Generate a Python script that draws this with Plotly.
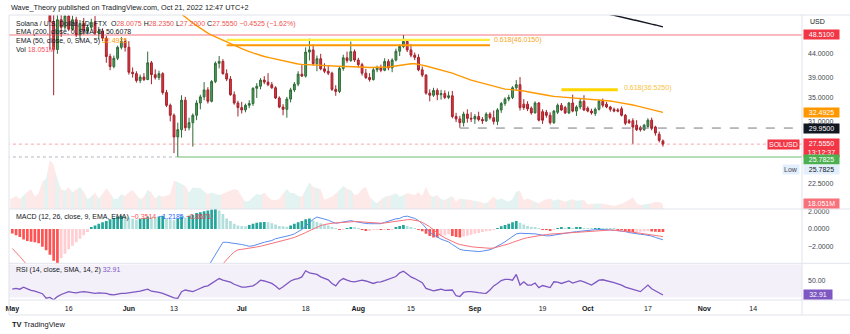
import numpy as np
import pandas as pd
import plotly.graph_objects as go

# ---------------- data ----------------
dates = pd.date_range("2022-05-01", "2022-10-21", freq="D")

opens = [
    99.0, 98.6, 96.0, 91.0, 95.8, 87.0, 84.2, 80.6, 76.1, 62.4, 64.0, 52.0, 45.0, 52.5, 50.5, 53.5,
    50.0, 52.5, 48.5, 51.5, 49.5, 50.5, 51.8, 49.0, 49.5, 47.7, 43.4, 41.2, 43.0, 45.5, 46.9,
    45.5, 40.0, 39.7, 38.3, 39.0, 38.5, 42.0, 39.5, 38.9, 39.7, 36.0, 33.7, 32.0, 28.6, 29.7, 34.6,
    30.0, 30.8, 32.0, 34.1, 35.2, 36.5, 34.4, 38.1, 41.9, 42.3, 39.7, 38.6, 35.6, 34.1,
    33.3, 32.9, 33.7, 34.0, 36.8, 37.2, 38.4, 38.0, 37.5, 36.9, 35.0, 33.4, 33.0, 34.8, 36.5, 37.6,
    39.6, 39.2, 44.4, 44.9, 41.8, 42.9, 40.7, 40.2, 39.8, 36.6, 36.2, 40.8, 43.1, 42.5, 44.5,
    42.6, 41.6, 39.8, 38.9, 38.5, 40.5, 40.9, 40.4, 42.3, 40.9, 42.6, 44.6, 45.7, 46.9, 44.9, 43.7,
    43.2, 40.5, 39.4, 35.9, 35.5, 36.4, 35.6, 35.8, 35.1, 35.4, 31.8, 31.4, 30.8, 32.2, 31.5,
    31.4, 31.8, 31.3, 31.1, 32.2, 31.6, 31.0, 32.9, 34.0, 34.8, 35.1, 36.9, 37.5, 33.9, 33.9, 33.2,
    32.4, 34.1, 32.6, 32.5, 32.0, 30.8, 32.5, 33.7, 33.3, 32.4, 34.1, 32.7, 33.4, 34.4,
    33.2, 32.7, 32.3, 33.0, 34.4, 33.9, 33.4, 33.0, 32.9, 33.1, 32.0, 31.1, 31.1, 30.4, 30.0, 29.7,
    30.2, 31.2, 30.1, 29.0, 28.0075,
]
highs = [
    101.0, 99.8, 96.8, 96.5, 96.4, 88.0, 84.9, 81.4, 76.8, 70.0, 68.2, 56.0, 57.0, 54.0, 55.0, 54.2,
    53.6, 53.3, 52.4, 53.0, 51.2, 52.8, 53.5, 50.6, 50.2, 48.3, 44.0, 43.6, 45.9, 48.0, 47.6,
    47.0, 41.0, 40.2, 39.5, 39.8, 44.5, 42.4, 40.6, 40.3, 40.0, 36.5, 34.0, 32.3, 30.8, 35.5, 35.2,
    31.6, 32.3, 34.6, 35.6, 38.0, 37.0, 38.4, 42.3, 43.5, 42.8, 40.6, 39.2, 36.2, 34.5,
    34.3, 34.0, 34.6, 37.0, 37.8, 38.8, 39.2, 39.8, 38.0, 37.2, 35.3, 33.9, 35.2, 36.9, 38.0, 40.2,
    41.5, 45.5, 47.6, 46.2, 43.6, 44.0, 41.9, 41.5, 40.1, 37.4, 41.2, 43.8, 44.5, 46.9, 45.0,
    43.1, 42.0, 40.7, 39.8, 41.0, 41.4, 41.6, 43.0, 42.8, 43.0, 45.2, 46.2, 48.51, 47.5, 46.3, 44.3,
    43.9, 41.2, 39.6, 36.6, 36.9, 36.8, 36.5, 36.4, 36.2, 36.3, 32.4, 31.9, 32.6, 33.0, 32.5,
    32.2, 32.6, 31.7, 32.5, 32.5, 32.8, 33.2, 34.3, 35.1, 35.6, 37.2, 38.4, 39.0, 34.8, 34.4, 33.5,
    34.4, 34.3, 33.0, 32.9, 32.5, 32.9, 34.0, 34.1, 33.6, 34.3, 35.6, 33.7, 34.9, 35.5,
    33.5, 33.1, 33.3, 34.7, 34.9, 34.3, 33.6, 33.3, 33.2, 33.5, 32.2, 31.4, 31.5, 31.2, 30.3, 30.6,
    31.5, 31.6, 30.3, 29.4, 28.235,
]
lows = [
    94.5, 93.2, 90.3, 89.8, 84.9, 81.0, 79.2, 73.8, 61.2, 59.2, 45.0, 35.5, 44.0, 48.0, 49.8, 49.5,
    49.6, 48.0, 47.2, 48.6, 48.7, 49.9, 48.6, 47.4, 47.0, 42.0, 40.4, 40.8, 42.6, 45.0, 44.5,
    39.5, 38.9, 37.9, 37.8, 38.2, 38.4, 37.6, 38.5, 38.4, 35.6, 33.4, 31.0, 26.3, 25.7825, 28.5, 29.5,
    29.6, 27.2, 31.2, 33.0, 34.6, 34.0, 34.2, 37.8, 40.8, 39.5, 38.2, 35.4, 33.8, 31.8,
    32.3, 32.5, 33.2, 33.6, 35.0, 36.6, 37.6, 37.2, 36.7, 34.8, 33.2, 32.0, 31.6, 34.2, 36.1, 37.2,
    39.0, 38.9, 42.5, 41.4, 40.2, 40.4, 39.8, 39.4, 36.3, 35.4, 35.9, 40.3, 42.0, 42.2, 42.2,
    41.0, 39.3, 38.6, 38.1, 38.3, 40.0, 40.0, 40.2, 40.4, 40.0, 42.3, 43.5, 45.3, 44.4, 43.2, 42.6,
    40.2, 39.0, 35.6, 34.4, 35.2, 34.6, 34.7, 34.8, 34.8, 31.5, 30.9, 30.0, 30.2, 30.8, 30.9,
    30.6, 31.0, 30.6, 30.9, 31.3, 30.5, 30.4, 32.4, 33.6, 34.4, 34.8, 36.5, 32.8, 32.9, 32.7, 32.1,
    32.3, 31.0, 30.6, 31.6, 30.5, 30.6, 32.2, 32.7, 32.2, 32.2, 32.5, 31.9, 33.0, 32.7,
    32.5, 32.1, 31.9, 32.8, 33.3, 33.2, 32.6, 32.5, 32.5, 31.8, 30.4, 30.6, 27.6, 29.5, 29.4, 29.5,
    30.0, 29.6, 28.8, 27.8, 27.2,
]
closes = [
    98.6, 96.0, 91.0, 95.8, 87.0, 84.2, 80.6, 76.1, 62.4, 64.0, 52.0, 45.0, 52.5, 50.5, 53.5, 50.0,
    52.5, 48.5, 51.5, 49.5, 50.5, 51.8, 49.0, 49.5, 47.7, 43.4, 41.2, 43.0, 45.5, 46.9, 45.5,
    40.0, 39.7, 38.3, 39.0, 38.5, 42.0, 39.5, 38.9, 39.7, 36.0, 33.7, 32.0, 28.6, 29.7, 34.6, 30.0,
    30.8, 32.0, 34.1, 35.2, 36.5, 34.4, 38.1, 41.9, 42.3, 39.7, 38.6, 35.6, 34.1, 33.3,
    32.9, 33.7, 34.0, 36.8, 37.2, 38.4, 38.0, 37.5, 36.9, 35.0, 33.4, 33.0, 34.8, 36.5, 37.6, 39.6,
    39.2, 44.4, 44.9, 41.8, 42.9, 40.7, 40.2, 39.8, 36.6, 36.2, 40.8, 43.1, 42.5, 44.5, 42.6,
    41.6, 39.8, 38.9, 38.5, 40.5, 40.9, 40.4, 42.3, 40.9, 42.6, 44.6, 45.7, 46.9, 44.9, 43.7, 43.2,
    40.5, 39.4, 35.9, 35.5, 36.4, 35.6, 35.8, 35.1, 35.4, 31.8, 31.4, 30.8, 32.2, 31.5, 31.4,
    31.8, 31.3, 31.1, 32.2, 31.6, 31.0, 32.9, 34.0, 34.8, 35.1, 36.9, 37.5, 33.3, 33.3, 33.1, 32.4,
    34.1, 31.2, 31.2, 32.0, 30.8, 32.7, 33.7, 32.9, 32.4, 34.1, 32.7, 33.4, 34.4, 32.9,
    32.7, 32.4, 33.0, 34.4, 33.7, 33.4, 33.0, 32.7, 32.7, 32.0, 30.7, 30.8, 30.1, 29.7, 29.7, 30.4,
    31.2, 29.9, 29.2, 28.1, 27.555,
]
volumes_m = [
    38, 47, 35, 50, 62, 71, 44, 57, 98, 110, 176, 158, 104, 71, 66, 78, 59, 68, 80, 62, 35, 44,
    59, 38, 54, 75, 59, 35, 38, 53, 47,
    61, 68, 50, 35, 43, 68, 59, 38, 50, 44, 47, 54, 102, 97, 90, 83, 59, 78, 75, 76, 62, 54,
    59, 54, 50, 54, 62, 65, 71, 68,
    43, 26, 30, 43, 54, 50, 59, 43, 32, 32, 35, 58, 71, 58, 57, 47, 44, 72, 95, 79, 75, 71,
    32, 40, 44, 57, 68, 83, 72, 68, 50,
    54, 72, 80, 44, 29, 21, 35, 44, 47, 50, 57, 44, 50, 57, 54, 50, 60, 47, 80, 50, 43, 50,
    35, 32, 40, 47, 26, 38, 35, 34, 32,
    29, 26, 23, 21, 32, 44, 32, 38, 32, 26, 36, 62, 66, 32, 38, 32, 26, 21, 30, 34, 38, 30,
    35, 31, 26, 32, 35, 30, 31, 32,
    17, 18, 19, 21, 18, 17, 14, 11, 14, 18, 25, 32, 42, 21, 14, 16, 18, 21, 26, 25, 18.051,
]

ema50_dates = pd.date_range("2022-06-12", "2022-10-21", freq="D")
ema50 = [
    56.6, 55.7, 54.8, 54.0, 53.2, 52.4, 51.6, 50.9, 50.2, 49.6, 49.0, 48.5, 48.1, 47.7, 47.3,
    46.9, 46.5, 46.0, 45.6,
    45.2, 44.8, 44.5, 44.2, 43.9, 43.6, 43.4, 43.2, 43.0, 42.8, 42.6, 42.4, 42.2, 42.0, 41.85,
    41.75, 41.65, 41.6, 41.55, 41.5, 41.45, 41.4, 41.35, 41.3, 41.3, 41.25, 41.2, 41.2, 41.2,
    41.2, 41.15,
    41.1, 41.1, 41.05, 41.0, 41.0, 41.0, 41.0, 41.05, 41.1, 41.2, 41.35, 41.5, 41.65, 41.75,
    41.8, 41.8, 41.7, 41.5, 41.3, 41.1, 40.9, 40.7, 40.5, 40.3, 40.1, 39.8, 39.5, 39.2, 38.9,
    38.7, 38.4,
    38.2, 38.0, 37.8, 37.55, 37.3, 37.1, 36.9, 36.75, 36.65, 36.6, 36.55, 36.5, 36.4, 36.3,
    36.15, 36.0, 35.9, 35.75, 35.6, 35.5, 35.4, 35.3, 35.25, 35.2, 35.15, 35.1, 35.05, 35.0,
    34.95, 34.9,
    34.85, 34.8, 34.7, 34.65, 34.6, 34.5, 34.45, 34.35, 34.25, 34.15, 34.0, 33.9, 33.75, 33.6,
    33.45, 33.3, 33.15, 33.0, 32.85, 32.68, 32.4925,
]
ema200_dates = pd.date_range("2022-10-05", "2022-10-21", freq="D")
ema200 = [54.6, 54.2, 53.9, 53.7, 53.5, 53.2, 53.0, 52.8, 52.5, 52.3, 52.1, 51.8, 51.6, 51.3,
          51.1, 50.85, 50.6078]

macd_hist = [
    -0.5, -0.7, -0.9, -1.2, -1.35, -1.45, -1.5, -1.6, -2.0, -2.4, -2.9, -3.6, -3.9, -3.3, -2.8,
    -2.3, -1.9, -1.5, -1.1, -0.7, -0.35, 0.2, 0.4, 0.6, 0.75, 0.9, 1.1, 1.25, 1.4, 1.5, 1.45,
    1.3, 1.15, 1.05, 1.15, 1.25, 1.4, 1.35, 1.3, 1.4, 1.5, 1.2, 1.1, 1.0, 1.2, 1.4, 1.3, 1.5,
    1.6, 1.8, 1.9, 2.0, 2.1, 2.2, 2.3, 2.1, 1.7, 1.2, 0.9, 0.6, 0.4,
    0.35, 0.3, 0.45, 0.6, 0.7, 0.75, 0.8, 0.75, 0.65, 0.5, 0.35, 0.3, 0.25, 0.4, 0.6, 0.75,
    0.9, 1.1, 1.2, 1.0, 0.8, 0.65, 0.5, 0.4, 0.2, 0.05, -0.1, -0.05, 0.1, 0.2, 0.15,
    0.05, -0.1, -0.2, -0.15, -0.1, -0.05, -0.1, -0.05, -0.1, -0.05, 0.2, 0.35, 0.45, 0.35, 0.2,
    0.05, -0.1, -0.25, -0.55, -0.8, -0.95, -0.95, -0.8, -0.7, -0.6, -0.8, -0.9, -0.95, -0.85,
    -0.75, -0.65,
    -0.55, -0.45, -0.35, -0.25, -0.15, -0.08, 0.1, 0.3, 0.45, 0.6, 0.75, 0.9, 0.7, 0.5, 0.35,
    0.25, 0.2, 0.05, -0.05, -0.1, -0.15, -0.05, 0.1, 0.15, 0.1, 0.15, 0.1, 0.12, 0.15, 0.1,
    0.08, 0.05, 0.07, 0.1, 0.07, 0.04, 0.02, 0.01, -0.02, -0.1, -0.2, -0.3, -0.35, -0.33, -0.3,
    -0.28, -0.25, -0.27, -0.3, -0.33, -0.3514,
]
macd_dates = pd.date_range("2022-06-21", "2022-10-21", freq="D")
macd_line = [
    -5.0, -4.3, -3.6, -2.9, -2.2, -1.5, -1.5, -1.55, -1.6, -1.65,
    -1.75, -1.85, -1.95, -1.9, -1.75, -1.6, -1.5, -1.4, -1.3, -1.1, -1.0, -0.95, -0.85, -0.7,
    -0.55, -0.3, -0.05, 0.3, 0.7, 1.1, 1.35, 1.25, 1.15, 1.0, 0.8, 0.65, 0.72, 0.8, 0.88, 0.94, 0.85,
    0.75, 0.68, 0.62, 0.6, 0.58, 0.56, 0.6, 0.75, 0.9, 1.05, 1.15, 1.2, 1.4, 1.45, 1.35, 1.2,
    0.95, 0.6, 0.1, -0.35, -0.65, -0.95, -1.15, -1.3, -1.45, -1.75, -2.05, -2.3, -2.4, -2.45, -2.5,
    -2.55, -2.55, -2.5, -2.45, -2.35, -2.15, -1.95, -1.7, -1.45, -1.15, -0.85, -0.55, -0.48,
    -0.48, -0.5, -0.52, -0.55, -0.62, -0.7, -0.78, -0.76, -0.68, -0.6, -0.52, -0.48, -0.42,
    -0.35, -0.3, -0.24, -0.2,
    -0.16, -0.12, -0.08, -0.05, -0.04, -0.06, -0.1, -0.14, -0.17, -0.2, -0.3, -0.4, -0.49,
    -0.55, -0.6, -0.64, -0.68, -0.8, -0.95, -1.08, -1.2185,
]
signal_early_dates = pd.date_range("2022-05-01", "2022-05-05", freq="D")
signal_early = [-2.2, -2.6, -3.1, -3.6, -4.1]
signal_dates = pd.date_range("2022-06-24", "2022-10-21", freq="D")
signal_line = [
    -4.9, -4.4, -3.9, -3.45, -3.0, -2.6, -2.35,
    -2.3, -2.25, -2.2, -2.12, -2.03, -1.95, -1.85, -1.75, -1.62, -1.5, -1.4, -1.3, -1.2, -1.08,
    -0.95, -0.8, -0.6, -0.4, -0.2, 0.0, 0.2, 0.38, 0.5, 0.6, 0.65, 0.68, 0.72, 0.78, 0.82, 0.84, 0.84,
    0.83, 0.8, 0.76, 0.72, 0.68, 0.66, 0.65, 0.68, 0.74, 0.82, 0.9, 0.98, 1.02, 1.05, 1.06, 1.02,
    0.9, 0.75, 0.5, 0.25, -0.1, -0.45, -0.75, -1.0, -1.2, -1.45, -1.6, -1.75, -1.85, -1.95, -2.0,
    -2.05, -2.1, -2.14, -2.17, -2.18, -2.15, -2.05, -1.95, -1.82, -1.68, -1.52, -1.35, -1.2,
    -1.08, -0.98, -0.9, -0.8, -0.74, -0.68, -0.62, -0.58, -0.55, -0.52, -0.5, -0.47, -0.44,
    -0.41, -0.37, -0.34, -0.3,
    -0.27, -0.23, -0.19, -0.15, -0.12, -0.11, -0.12, -0.14, -0.16, -0.19, -0.24, -0.3, -0.36,
    -0.41, -0.46, -0.52, -0.58, -0.64, -0.71, -0.79, -0.8671,
]
rsi = [
    40, 41, 40, 42.5, 40.5, 38.5, 37.5, 36, 34.5, 29, 30, 27, 31, 33.5, 35.5, 37, 36, 35.5, 36.5,
    37, 36.5, 36, 35, 35.5, 35.7, 35, 33.5, 33, 34, 35, 35,
    35.5, 35.7, 36.5, 37.5, 39, 40, 37.5, 37, 36, 35, 33, 31, 29.5, 28.9, 37, 39, 38, 37, 39,
    41.5, 43, 44, 47, 51, 53, 51, 50, 48.5, 46, 44,
    42.5, 42.5, 43, 44, 47, 51, 50, 48.5, 47, 44, 40, 43, 47, 50, 52, 53, 55, 62.5, 60, 59, 58,
    55, 53, 51.5, 47, 44, 50, 53, 51, 49.5, 49,
    50, 51, 50, 48.5, 47, 48.5, 49, 50.5, 52, 54, 55.5, 60, 62, 58.5, 55, 53, 50, 48, 41, 39.5,
    38, 39, 40, 38.5, 38.8, 39, 32, 31, 36, 37, 37,
    36, 35.7, 35.3, 35, 39, 44, 47, 50.5, 52, 52, 51, 58, 45, 49, 45, 45, 47.5, 42, 44.5, 43.5,
    42, 49, 48.5, 47, 48.5, 50, 47.5, 49, 50.5, 49,
    47, 45, 48, 51, 51.5, 50.5, 49.5, 48, 46.5, 45, 42.5, 41, 40, 38.5, 37, 41, 45, 40.5, 38, 35,
    32.91,
]

# drawn levels
fib_top_dates = ["2022-06-27", "2022-09-05"]
fib_top_yellow = 47.3
fib_top_level = 46.015
fib_low_dates = ["2022-09-24", "2022-10-09"]
fib_low_level = 36.525
resistance_level = 48.51
support_level = 29.95
support_start = "2022-08-28"
low_level = 25.7825
low_date = "2022-06-14"
last_price = 27.555
last_volume = 18.051
ema50_last = 32.4925
ema200_last = 50.6078
rsi_last = 32.91

price_ticks = [22.5, 31.0, 35.0, 39.0, 44.0]
macd_ticks = [2.0, 0.0, -2.0]
time_ticks = ["2022-05-01", "2022-05-16", "2022-06-01", "2022-06-13", "2022-07-01", "2022-07-18",
              "2022-08-01", "2022-08-15", "2022-09-01", "2022-09-19", "2022-10-01", "2022-10-17",
              "2022-11-01", "2022-11-14"]
time_labels = ["<b>May</b>", "16", "<b>Jun</b>", "13", "<b>Jul</b>", "18", "<b>Aug</b>", "15",
               "<b>Sep</b>", "19", "<b>Oct</b>", "17", "<b>Nov</b>", "14"]

# ---------------- geometry (pixels of the 850x334 canvas) ----------------
W, H = 850, 334
L, R, T, B = 5, 802, 15, 300
X_START, X_END = "2022-04-30 03:00", "2022-11-26 23:20"
FULL_SPAN = ["2022-04-20", "2022-12-10"]


def px(x):
    return (x - L) / (R - L)


def py(y):
    return (B - y) / (B - T)


FONT = "Liberation Sans, Arial, sans-serif"

fig = go.Figure()

# volume as a coloured area per bar
half = pd.Timedelta(hours=12)


def volume_polys(up):
    xs, ys = [], []
    n = len(dates)
    for i in range(n):
        if (closes[i] >= opens[i]) != up:
            continue
        v = volumes_m[i]
        vl = (volumes_m[i - 1] + v) / 2 if i > 0 else v
        last = i == n - 1
        vr = v if last else (volumes_m[i + 1] + v) / 2
        t = dates[i]
        right = t if last else t + half
        xs += [t - half, t, right, right, t - half, t - half, None]
        ys += [vl, v, vr, 0, 0, vl, None]
    return xs, ys


for up, col in [(True, "rgba(38,166,154,0.13)"), (False, "rgba(239,83,80,0.13)")]:
    vx, vy = volume_polys(up)
    fig.add_trace(go.Scatter(x=vx, y=vy, mode="lines", fill="toself", fillcolor=col,
                             line=dict(width=0), yaxis="y4", hoverinfo="skip"))

# horizontal levels
fig.add_trace(go.Scatter(x=FULL_SPAN, y=[resistance_level] * 2, mode="lines",
                         line=dict(color="rgba(242,54,69,0.45)", width=1.6), yaxis="y"))
fig.add_trace(go.Scatter(x=FULL_SPAN, y=[last_price] * 2, mode="lines",
                         line=dict(color="rgba(242,54,69,0.45)", width=1, dash="dot"), yaxis="y"))
fig.add_trace(go.Scatter(x=[support_start, FULL_SPAN[1]], y=[support_level] * 2, mode="lines",
                         line=dict(color="#787b86", width=1, dash="dash"), yaxis="y"))
fig.add_trace(go.Scatter(x=[FULL_SPAN[0], low_date], y=[low_level] * 2, mode="lines",
                         line=dict(color="#b2b5be", width=1, dash="dot"), yaxis="y"))
fig.add_trace(go.Scatter(x=[low_date, FULL_SPAN[1]], y=[low_level] * 2, mode="lines",
                         line=dict(color="rgba(76,175,80,0.55)", width=1.5), yaxis="y"))

# fibonacci levels
fig.add_trace(go.Scatter(x=fib_top_dates, y=[fib_top_yellow] * 2, mode="lines",
                         line=dict(color="#ffeb3b", width=2.2), yaxis="y"))
fig.add_trace(go.Scatter(x=fib_top_dates, y=[fib_top_level] * 2, mode="lines",
                         line=dict(color="#ff9800", width=2), yaxis="y"))
fig.add_trace(go.Scatter(x=fib_low_dates, y=[fib_low_level] * 2, mode="lines",
                         line=dict(color="#ffd600", width=3), yaxis="y"))

# moving averages
fig.add_trace(go.Scatter(x=ema50_dates, y=ema50, mode="lines",
                         line=dict(color="#ff9800", width=1.4), yaxis="y"))
fig.add_trace(go.Scatter(x=ema200_dates, y=ema200, mode="lines",
                         line=dict(color="#131722", width=1.4), yaxis="y"))

# candles
fig.add_trace(go.Candlestick(
    x=dates, open=opens, high=highs, low=lows, close=closes, yaxis="y",
    increasing=dict(fillcolor="#4f9f5a", line=dict(color="#2f6b38", width=1)),
    decreasing=dict(fillcolor="#e0343f", line=dict(color="#a3222b", width=1)),
    whiskerwidth=0, hoverinfo="skip"))

# MACD
hist_cols = []
prev = None
for v in macd_hist:
    if v >= 0:
        hist_cols.append("#26a69a" if prev is None or v >= prev else "#b2dfdb")
    else:
        hist_cols.append("#ff5252" if prev is None or v <= prev else "#ffcdd2")
    prev = v
fig.add_trace(go.Bar(x=dates, y=macd_hist, marker=dict(color=hist_cols, line=dict(width=0)),
                     width=0.72 * 86400000, yaxis="y2", hoverinfo="skip"))
fig.add_trace(go.Scatter(x=macd_dates, y=macd_line, mode="lines",
                         line=dict(color="#5b8def", width=1), yaxis="y2"))
fig.add_trace(go.Scatter(x=signal_dates, y=signal_line, mode="lines",
                         line=dict(color="#f7727a", width=1), yaxis="y2"))
fig.add_trace(go.Scatter(x=signal_early_dates, y=signal_early, mode="lines",
                         line=dict(color="#f7727a", width=1), yaxis="y2"))

# RSI
fig.add_trace(go.Scatter(x=dates, y=rsi, mode="lines",
                         line=dict(color="#7e57c2", width=1.3), yaxis="y3"))

# ---------------- axes ----------------
log_lo, log_hi = np.log10(19.69), np.log10(53.8)
axis_font = dict(family=FONT, size=7, color="#434651")
fig.update_layout(
    width=W, height=H, margin=dict(l=L, r=W - R, t=T, b=H - B),
    paper_bgcolor="white", plot_bgcolor="white", showlegend=False, hovermode=False,
    font=dict(family=FONT, size=7, color="#131722"),
    xaxis=dict(type="date", range=[X_START, X_END], anchor="y3", domain=[0, 1],
               tickvals=time_ticks, ticktext=time_labels, ticks="", showgrid=False,
               showline=False, zeroline=False, tickfont=dict(family=FONT, size=7, color="#131722"),
               ticklabelstandoff=3, rangeslider=dict(visible=False)),
    yaxis=dict(type="log", range=[log_lo, log_hi], domain=[py(209), 1], side="right",
               anchor="x", tickvals=price_ticks, ticktext=[f"{v:.4f}" for v in price_ticks],
               ticks="", showgrid=False, zeroline=False, showline=False, tickfont=axis_font,
               ticklabelstandoff=5),
    yaxis4=dict(overlaying="y", range=[0, 194 * 3.6], visible=False, anchor="x"),
    yaxis2=dict(range=[-3.876, 2.26], domain=[py(263.3), py(209)], side="right", anchor="x",
                tickvals=macd_ticks, ticktext=["2.0000", "0.0000", "\u22122.0000"], ticks="",
                showgrid=False, zeroline=False, showline=False, tickfont=axis_font,
                ticklabelstandoff=5),
    yaxis3=dict(range=[26.8, 71.6], domain=[0, py(263.3)], side="right", anchor="x",
                tickvals=[50], ticktext=["50.00"], ticks="", showgrid=False, zeroline=False,
                showline=False, tickfont=axis_font, ticklabelstandoff=5),
)

# ---------------- frame lines & RSI band ----------------
border = "#e0e3eb"
shapes = [
    dict(type="rect", xref="x domain", yref="y3", x0=0, x1=1, y0=30, y1=70,
         fillcolor="rgba(126,87,194,0.09)", line=dict(width=0), layer="below"),
]
for yy in [T, 209, 263.3, B, 315]:
    shapes.append(dict(type="line", xref="paper", yref="paper", x0=0, x1=px(W),
                       y0=py(yy), y1=py(yy), line=dict(color=border, width=1)))
for xx in [0, 1]:
    shapes.append(dict(type="line", xref="paper", yref="paper", x0=xx, x1=xx,
                       y0=py(315), y1=1, line=dict(color=border, width=1)))
fig.update_layout(shapes=shapes)

# ---------------- texts ----------------
ann = []


def text(x, y, s, size=7, color="#131722", anchor="left"):
    ann.append(dict(xref="paper", yref="paper", x=px(x), y=py(y), text=s, showarrow=False,
                    xanchor=anchor, yanchor="middle",
                    font=dict(family=FONT, size=size, color=color)))


def tag(yref, yval, s, bg, fg="white", yshift=0, width=33):
    ann.append(dict(xref="paper", yref=yref, x=1, y=yval, text=s, showarrow=False,
                    xanchor="left", yanchor="middle", xshift=1, yshift=yshift,
                    bgcolor=bg, borderpad=1, width=width, align="center",
                    font=dict(family=FONT, size=7, color=fg)))


red_v = "#ef5350"
text(5, 8, "Wave_Theory published on TradingView.com, Oct 21, 2022 12:47 UTC+2", size=7.3)
text(10, 24, "Solana / U.S. Dollar, 1D, FTX &nbsp;"
             f"O<span style='color:{red_v}'>28.0075</span> "
             f"H<span style='color:{red_v}'>28.2350</span> "
             f"L<span style='color:{red_v}'>27.2000</span> "
             f"C<span style='color:{red_v}'>27.5550</span> "
             f"<span style='color:{red_v}'>\u22120.4525 (\u22121.62%)</span>")
text(10, 32.5, "EMA (200, close, 0, SMA, 5) <span style='color:#131722'>50.6078</span>")
text(10, 41, "EMA (50, close, 0, SMA, 5) <span style='color:#ff9800'>32.4925</span>")
text(10, 49.5, "Vol <span style='color:#f7525f'>18.051M</span>")
text(10, 217, "MACD (12, 26, close, 9, EMA, EMA) "
              "<span style='color:#ff5252'>\u22120.3514</span> "
              "<span style='color:#2962ff'>\u22121.2185</span> "
              "<span style='color:#f23645'>\u22120.8671</span>")
text(10, 270, "RSI (14, close, SMA, 14, 2) <span style='color:#7e57c2'>32.91</span>")
text(490, 40, "0.618(46.0150)", color="#f5a623")
text(621, 88, "0.618(36.5250)", color="#f9c23c")
text(808, 22, "USD", color="#131722")
text(6, 324, "<b>TV</b> TradingView", size=7.5, color="#131722")

# right-hand price tags
tag("y", np.log10(resistance_level), "48.5100", "#f23645")
tag("y", np.log10(ema50_last), "32.4925", "#ff9800")
tag("y", np.log10(support_level), "29.9500", "#131722")
tag("y", np.log10(last_price), "27.5550<br>13:12:37", "#f23645", yshift=-4)
tag("y", np.log10(low_level), "25.7825", "#4caf50", yshift=-3)
tag("y", np.log10(low_level), "25.7825", "#e3effd", fg="#131722", yshift=-13)
tag("y4", last_volume, "18.051M", "#f7727a")
tag("y3", rsi_last, "32.91", "#7e57c2", width=26)
ann.append(dict(xref="paper", yref="y", x=px(800), y=np.log10(last_price), text="SOLUSD",
                showarrow=False, xanchor="right", yanchor="middle", bgcolor="#f23645",
                borderpad=1, font=dict(family=FONT, size=7, color="white")))
ann.append(dict(xref="paper", yref="y", x=px(800), y=np.log10(low_level), yshift=-13,
                text="Low", showarrow=False, xanchor="right", yanchor="middle",
                bgcolor="#e3effd", borderpad=1, font=dict(family=FONT, size=7, color="#434651")))
fig.update_layout(annotations=ann)

fig.write_html("out.html")
